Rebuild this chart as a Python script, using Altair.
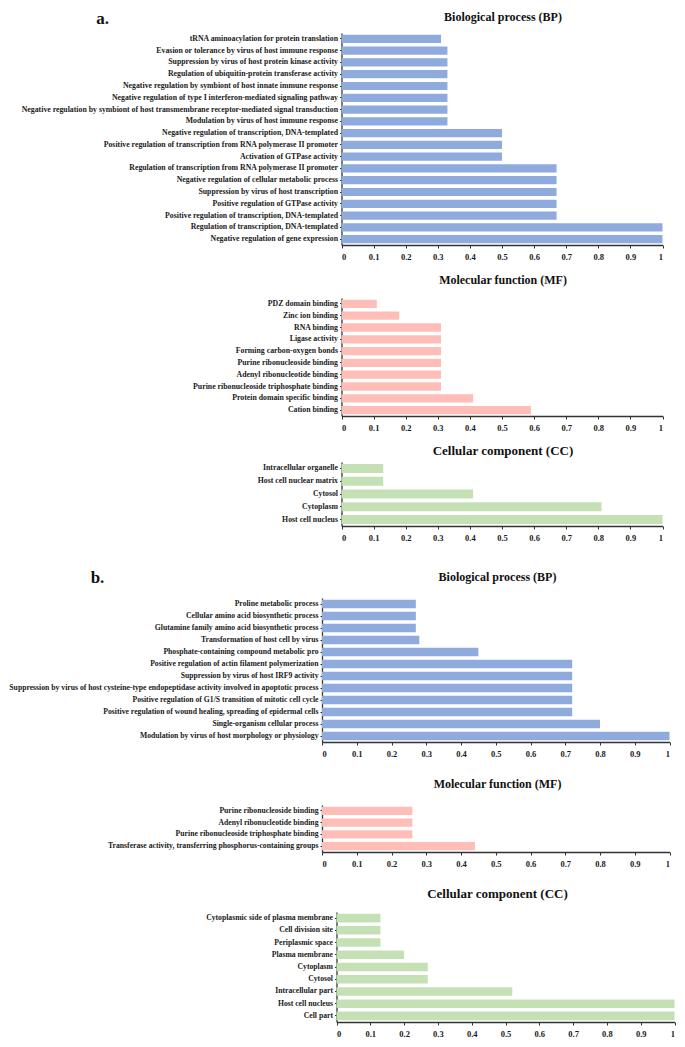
import altair as alt
import pandas as pd

FONT = "Liberation Serif"
TICKS = [0, 0.1, 0.2, 0.3, 0.4, 0.5, 0.6, 0.7, 0.8, 0.9, 1]

BLUE = "#8faadc"
PINK = "#ffbdb8"
GREEN = "#c5e0b4"

# ---- Panel a ----
a_bp_terms = [
    "tRNA aminoacylation for protein translation",
    "Evasion or tolerance by virus of host immune response",
    "Suppression by virus of host protein kinase activity",
    "Regulation of ubiquitin-protein transferase activity",
    "Negative regulation by symbiont of host innate immune response",
    "Negative regulation of type I interferon-mediated signaling pathway",
    "Negative regulation by symbiont of host transmembrane receptor-mediated signal transduction",
    "Modulation by virus of host immune response",
    "Negative regulation of transcription, DNA-templated",
    "Positive regulation of transcription from RNA polymerase II promoter",
    "Activation of GTPase activity",
    "Regulation of transcription from RNA polymerase II promoter",
    "Negative regulation of cellular metabolic process",
    "Suppression by virus of host transcription",
    "Positive regulation of GTPase activity",
    "Positive regulation of transcription, DNA-templated",
    "Regulation of transcription, DNA-templated",
    "Negative regulation of gene expression",
]
a_bp_values = [0.31, 0.33, 0.33, 0.33, 0.33, 0.33, 0.33, 0.33, 0.50, 0.50, 0.50,
               0.67, 0.67, 0.67, 0.67, 0.67, 1.0, 1.0]

a_mf_terms = [
    "PDZ domain binding",
    "Zinc ion binding",
    "RNA binding",
    "Ligase activity",
    "Forming carbon-oxygen bonds",
    "Purine ribonucleoside binding",
    "Adenyl ribonucleotide binding",
    "Purine ribonucleoside triphosphate binding",
    "Protein domain specific binding",
    "Cation binding",
]
a_mf_values = [0.11, 0.18, 0.31, 0.31, 0.31, 0.31, 0.31, 0.31, 0.41, 0.59]

a_cc_terms = [
    "Intracellular organelle",
    "Host cell nuclear matrix",
    "Cytosol",
    "Cytoplasm",
    "Host cell nucleus",
]
a_cc_values = [0.13, 0.13, 0.41, 0.81, 1.0]

# ---- Panel b ----
b_bp_terms = [
    "Proline metabolic process",
    "Cellular amino acid biosynthetic process",
    "Glutamine family amino acid biosynthetic process",
    "Transformation of host cell by virus",
    "Phosphate-containing compound metabolic pro",
    "Positive regulation of actin filament polymerization",
    "Suppression by virus of host IRF9 activity",
    "Suppression by virus of host cysteine-type endopeptidase activity involved in apoptotic process",
    "Positive regulation of G1/S transition of mitotic cell cycle",
    "Positive regulation of wound healing, spreading of epidermal cells",
    "Single-organism cellular process",
    "Modulation by virus of host morphology or physiology",
]
b_bp_values = [0.27, 0.27, 0.27, 0.28, 0.45, 0.72, 0.72, 0.72, 0.72, 0.72, 0.80, 1.0]

b_mf_terms = [
    "Purine ribonucleoside binding",
    "Adenyl ribonucleotide binding",
    "Purine ribonucleoside triphosphate binding",
    "Transferase activity, transferring phosphorus-containing groups",
]
b_mf_values = [0.26, 0.26, 0.26, 0.44]

b_cc_terms = [
    "Cytoplasmic side of plasma membrane",
    "Cell division site",
    "Periplasmic space",
    "Plasma membrane",
    "Cytoplasm",
    "Cytosol",
    "Intracellular part",
    "Host cell nucleus",
    "Cell part",
]
b_cc_values = [0.13, 0.13, 0.13, 0.20, 0.27, 0.27, 0.52, 1.0, 1.0]


def panel(terms, values, color, title, inset, plot_w, height, label_size,
          title_offset, title_size=12, title_dx=0, tag=None, tag_x=0, tag_y=0):
    df = pd.DataFrame({"term": terms, "value": values})
    bars = alt.Chart(df).mark_bar(color=color).encode(
        x=alt.X("value:Q",
                scale=alt.Scale(domain=[0, 1], nice=False,
                                range=[inset, inset + plot_w]),
                axis=alt.Axis(values=TICKS, format="~g", title=None,
                              labelFontSize=8.5, labelPadding=4, tickSize=3)),
        y=alt.Y("term:N", sort=terms,
                scale=alt.Scale(paddingInner=0.3, paddingOuter=0.15),
                axis=alt.Axis(title=None, offset=-inset,
                              labelFontSize=label_size, labelLimit=500,
                              labelPadding=2, tickSize=2)),
        tooltip=["term:N", "value:Q"],
    )
    layers = [bars]
    if tag:
        tdf = pd.DataFrame({"tag": [tag]})
        txt = alt.Chart(tdf).mark_text(
            font=FONT, fontSize=17, fontWeight="bold", align="center",
            baseline="middle", color="#111111"
        ).encode(text="tag:N", x=alt.value(tag_x), y=alt.value(tag_y))
        layers.append(txt)
    return alt.layer(*layers).properties(
        width=inset + plot_w, height=height,
        title=alt.TitleParams(title, offset=title_offset, font=FONT,
                              fontSize=title_size, fontWeight="bold",
                              color="#111111", anchor="middle", dx=title_dx),
    )


a_bp = panel(a_bp_terms, a_bp_values, BLUE, "Biological process (BP)",
             19.5, 321, 212, 7.8, -14, title_dx=10.75,
             tag="a.", tag_x=-219.5, tag_y=-14)
a_mf = panel(a_mf_terms, a_mf_values, PINK, "Molecular function (MF)",
             19.5, 321, 118, 7.8, 11, title_dx=10.75)
a_cc = panel(a_cc_terms, a_cc_values, GREEN, "Cellular component (CC)",
             19.5, 321, 64, 7.8, 4, title_size=13, title_dx=10.75)

b_bp = panel(b_bp_terms, b_bp_values, BLUE, "Biological process (BP)",
             0, 347.5, 144, 7.7, -15, title_dx=1.75,
             tag="b.", tag_x=-224.5, tag_y=-20)
b_mf = panel(b_mf_terms, b_mf_values, PINK, "Molecular function (MF)",
             0, 347.5, 47, 7.7, 14, title_dx=1.75)
b_cc = panel(b_cc_terms, b_cc_values, GREEN, "Cellular component (CC)",
             14.5, 338, 110, 7.7, 11, title_size=13, title_dx=-0.75)

group_a = alt.vconcat(a_bp, a_mf, a_cc, spacing=13)
group_b = alt.vconcat(b_bp, b_mf, b_cc, spacing=20)

chart = alt.vconcat(group_a, group_b, spacing=27).properties(
    padding={"left": 0, "top": 2, "right": 0, "bottom": 0}
).configure_view(
    stroke=None
).configure_axis(
    labelFont=FONT, labelFontWeight="bold", labelColor="#1a1a1a",
    domainColor="#333333", domainWidth=1.3, tickColor="#333333",
    tickWidth=1, grid=False,
)

chart.save("out.html", embed_options={"renderer": "svg", "actions": False})
